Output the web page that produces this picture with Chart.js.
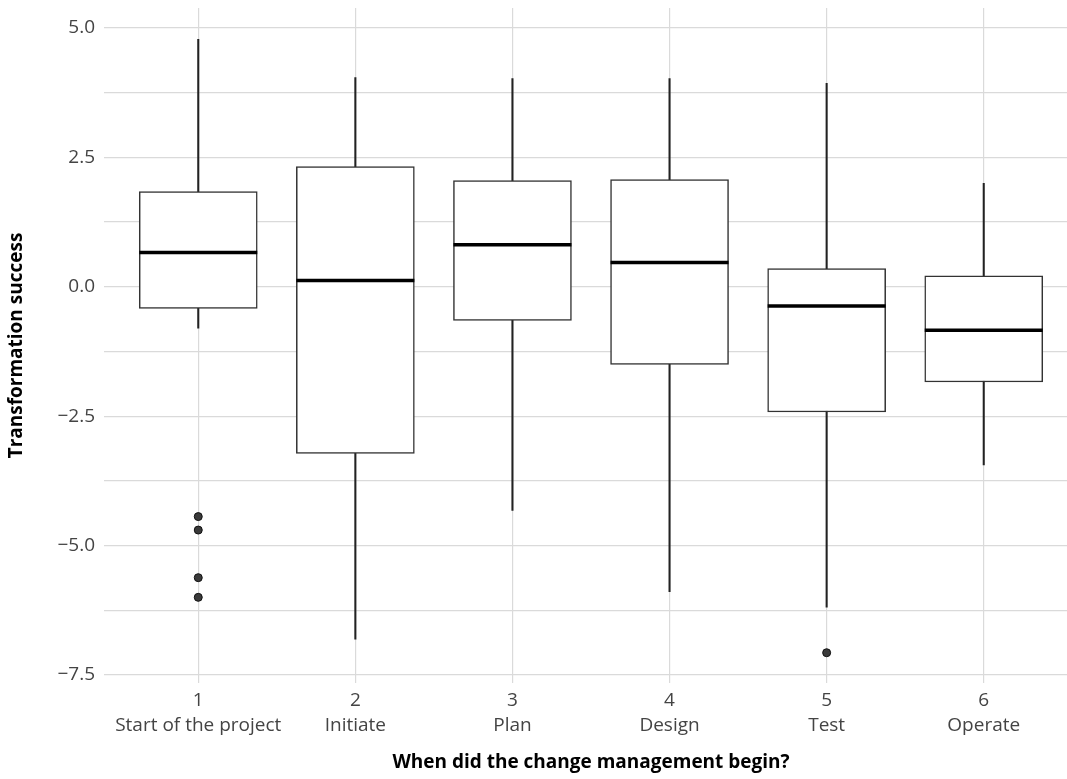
<!DOCTYPE html>
<html>
<head>
<meta charset="utf-8">
<script src="https://cdn.jsdelivr.net/npm/chart.js@4.4.0/dist/chart.umd.min.js"></script>
<style>
  html, body { margin: 0; padding: 0; background: #fff; overflow: hidden; }
  #wrap { width: 1080px; height: 779px; }
</style>
</head>
<body>
<div id="wrap"><canvas id="boxplot" width="1080" height="779"></canvas></div>
<script>
// categories
const stageNumbers = ['1', '2', '3', '4', '5', '6'];
const stageNames = ['Start of the project', 'Initiate', 'Plan', 'Design', 'Test', 'Operate'];

// box statistics per stage
const whiskerLow  = [-0.80, -6.81, -4.32, -5.89, -6.19, -3.44];
const quartile1   = [-0.42, -3.22, -0.65, -1.50, -2.42, -1.84];
const medians     = [ 0.66,  0.12,  0.81,  0.47, -0.37, -0.84];
const quartile3   = [ 1.84,  2.32,  2.05,  2.07,  0.35,  0.21];
const whiskerHigh = [ 4.78,  4.04,  4.02,  4.02,  3.93,  2.00];

// outliers
const outlierStage = [1, 1, 1, 1, 5];
const outlierValue = [-4.44, -4.70, -5.62, -6.00, -7.07];

// y axis breaks
const yBreaks = [-7.5, -5.0, -2.5, 0.0, 2.5, 5.0];
const yMinorBreaks = [-6.25, -3.75, -1.25, 1.25, 3.75];

const gridColor = '#dadada';
const tickColor = '#444444';

Chart.defaults.font.family = '"Open Sans", Roboto, sans-serif';

const xPos = stageNumbers.map(Number);

const ctx = document.getElementById('boxplot').getContext('2d');
new Chart(ctx, {
  type: 'bar',
  data: {
    datasets: [
      {
        type: 'scatter',
        label: 'outliers',
        data: outlierStage.map((s, i) => ({ x: s, y: outlierValue[i] })),
        pointRadius: 4,
        backgroundColor: '#3a3a3a',
        borderColor: '#111',
        borderWidth: 1,
        order: 0
      },
      {
        type: 'scatter',
        label: 'median',
        data: xPos.map((x, i) => ({ x: x, y: medians[i] })),
        pointStyle: 'line',
        pointRadius: 59,
        borderColor: '#000',
        borderWidth: 3.5,
        order: 1
      },
      {
        label: 'box',
        data: xPos.map((x, i) => ({ x: x, y: [quartile1[i], quartile3[i]] })),
        backgroundColor: '#ffffff',
        borderColor: '#333333',
        borderWidth: 1.5,
        borderSkipped: false,
        barThickness: 118,
        grouped: false,
        order: 2
      },
      {
        label: 'whisker',
        data: xPos.map((x, i) => ({ x: x, y: [whiskerLow[i], whiskerHigh[i]] })),
        backgroundColor: '#222222',
        borderWidth: 0,
        barThickness: 1.4,
        grouped: false,
        order: 3
      }
    ]
  },
  options: {
    responsive: false,
    animation: false,
    events: [],
    layout: { autoPadding: false, padding: { top: 8, right: 2, left: 0, bottom: 0 } },
    plugins: { legend: { display: false }, tooltip: { enabled: false } },
    scales: {
      x: {
        type: 'linear',
        min: 0.4,
        max: 6.6,
        offset: false,
        afterBuildTicks: (scale) => { scale.ticks = xPos.map(v => ({ value: v })); },
        afterFit: (scale) => { scale.height = 96; scale.paddingLeft = 0; scale.paddingRight = 0; },
        ticks: {
          autoSkip: false,
          maxRotation: 0,
          padding: 5,
          color: tickColor,
          font: { size: 19, weight: '400', lineHeight: 1.32 },
          callback: (v) => {
            const i = xPos.indexOf(v);
            return i < 0 ? '' : [stageNumbers[i], stageNames[i]];
          }
        },
        grid: { color: gridColor, lineWidth: 1.2, drawTicks: false, offset: false },
        border: { display: false },
        title: {
          display: true,
          text: 'When did the change management begin?',
          color: '#000',
          font: { size: 19, weight: 'bold' },
          padding: { top: 0, bottom: 5 }
        }
      },
      y: {
        type: 'linear',
        min: -7.655,
        max: 5.386,
        afterBuildTicks: (scale) => {
          scale.ticks = yBreaks.concat(yMinorBreaks).sort((a, b) => a - b).map(v => ({ value: v }));
        },
        afterFit: (scale) => { scale.width = 104; scale.paddingTop = 0; scale.paddingBottom = 0; },
        ticks: {
          padding: 9,
          color: tickColor,
          font: { size: 19, weight: '400' },
          callback: (v) => yBreaks.includes(v) ? v.toFixed(1).replace('-', '\u2212') : ''
        },
        grid: { color: gridColor, lineWidth: 1.2, drawTicks: false },
        border: { display: false },
        title: {
          display: true,
          text: 'Transformation success',
          color: '#000',
          font: { size: 19, weight: 'bold' },
          padding: { top: 5, bottom: 0 }
        }
      }
    }
  }
});
</script>
</body>
</html>
